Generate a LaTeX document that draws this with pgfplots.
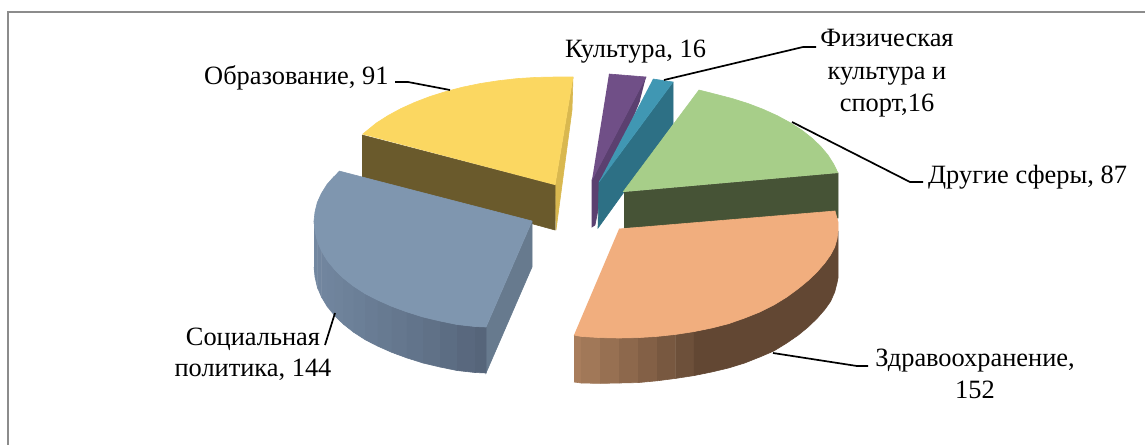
\documentclass[border=0pt]{standalone}
\usepackage{fontspec}
\setmainfont{Liberation Serif}
\usepackage{pgfplots}
\pgfplotsset{compat=1.18}
\definecolor{ytop}{HTML}{FBD761}
\definecolor{ywall}{HTML}{6A5A2C}
\definecolor{yside}{HTML}{D9B84F}
\definecolor{btop}{HTML}{7F96AF}
\definecolor{bside}{HTML}{677A8E}
\definecolor{bl}{HTML}{7388A1}
\definecolor{bd}{HTML}{56657A}
\definecolor{otop}{HTML}{F1AE7E}
\definecolor{ol}{HTML}{A87D5C}
\definecolor{od}{HTML}{624733}
\definecolor{gtop}{HTML}{A7CE89}
\definecolor{gwall}{HTML}{465336}
\definecolor{ttop}{HTML}{4097B3}
\definecolor{twall}{HTML}{2D7085}
\definecolor{ptop}{HTML}{704F87}
\definecolor{pwall}{HTML}{5B4070}
\definecolor{frame}{HTML}{8C8C8C}
\newcommand{\poly}[2]{\addplot[fill=#1,draw=#1,line width=0.6pt] coordinates {#2};}
\newcommand{\lead}[1]{\addplot[black,line width=1.7pt] coordinates {#1};}
\newcommand{\lab}[3]{\node[#1,font=\fontsize{26.4}{30}\selectfont,inner sep=0pt,align=center] at (axis cs:#2) {#3};}
\begin{document}
\begin{tikzpicture}
\begin{axis}[scale only axis,width=1145pt,height=445pt,xmin=0,xmax=1145,ymin=0,ymax=445,y dir=reverse,hide axis,clip=true]
\addplot[white,fill=white] coordinates {(0,0)(1145,0)(1145,445)(0,445)};
\addplot[frame,line width=2.2pt] coordinates {(1145,12)(8,12)(8,445)};
% yellow
\poly{yside}{(573,77)(572,110)(556,230)(555,185)}
\poly{ywall}{(362,135)(555,185)(555,230)(362,177)}
\poly{ytop}{(362.5,134.3)(376.4,123)(388,115.6)(400.9,108.6)(414.9,102.3)(430,96.5)(446,91.5)(462.9,87.1)(480.4,83.5)(498.6,80.7)(517.1,78.6)(536,77.4)(555,77)(573,77)(555,185)}
% blue
\poly{bside}{(532,221)(532,267)(486,373)(486,327)}
\poly{bl!100!bd}{(314,221)(315,231)(315,277)(314,267)}
\poly{bl!98!bd}{(315,231)(317.3,241)(317.3,287)(315,277)}
\poly{bl!95!bd}{(317.3,241)(321.4,250.8)(321.4,296.8)(317.3,287)}
\poly{bl!92!bd}{(321.4,250.8)(327.1,260.3)(327.1,306.3)(321.4,296.8)}
\poly{bl!89!bd}{(327.1,260.3)(334.5,269.4)(334.5,315.4)(327.1,306.3)}
\poly{bl!85!bd}{(334.5,269.4)(343.2,278)(343.2,324)(334.5,315.4)}
\poly{bl!80!bd}{(343.2,278)(353.5,286.1)(353.5,332.1)(343.2,324)}
\poly{bl!74!bd}{(353.5,286.1)(365,293.6)(365,339.6)(353.5,332.1)}
\poly{bl!67!bd}{(365,293.6)(377.9,300.2)(377.9,346.2)(365,339.6)}
\poly{bl!60!bd}{(377.9,300.2)(391.9,306.4)(391.9,352.4)(377.9,346.2)}
\poly{bl!52!bd}{(391.9,306.4)(406.9,311.9)(406.9,357.9)(391.9,352.4)}
\poly{bl!43!bd}{(406.9,311.9)(423,317)(423,363)(406.9,357.9)}
\poly{bl!33!bd}{(423,317)(440,321)(440,367)(423,363)}
\poly{bl!22!bd}{(440,321)(457,324.5)(457,370.5)(440,367)}
\poly{bl!10!bd}{(457,324.5)(475,326.5)(475,372.5)(457,370.5)}
\poly{bl!0!bd}{(475,326.5)(486,327)(486,373)(475,372.5)}
\poly{btop}{(339,171)(532,221)(486,327)(475,326.5)(457,324.5)(440,321)(423,317)(406.9,311.9)(391.9,306.4)(377.9,300.2)(365,293.6)(353.5,286.1)(343.2,278)(334.5,269.4)(327.1,260.3)(321.4,250.8)(317.3,241)(315,231)(314,221)(315,212)(317.3,202.5)(321.4,193.5)(327,184.5)(334.5,176)}
% purple
\poly{pwall}{(646,77)(592,180)(592,227)(595,225)(600,200)(640,100)}
\poly{ptop}{(609,74)(646,77)(592,180)}
% teal
\poly{twall}{(673,82)(673,124)(598,228)(599,182)}
\poly{ttop}{(653,79)(673,82)(599,182)}
% green
\poly{gwall}{(624,192)(838,173)(838,218)(624,228)}
\poly{gtop}{(623,192)(699,90)(715.1,94.1)(732,98.5)(748,103.5)(763.1,109.3)(777.1,115.6)(790,122.6)(801.6,130)(811.8,138)(820.6,146.4)(827.9,155)(833.6,164)(838,173)}
% orange
\poly{ol!100!od}{(574,335)(581,336.4)(581,383)(574,382)}
\poly{ol!90!od}{(581,336.4)(600,337.6)(600,383.4)(581,383)}
\poly{ol!76!od}{(600,337.6)(619,338)(619,383)(600,383.4)}
\poly{ol!62!od}{(619,338)(638,337.6)(638,382.6)(619,383)}
\poly{ol!47!od}{(638,337.6)(657,336.4)(657,380.8)(638,382.6)}
\poly{ol!32!od}{(657,336.4)(675.7,334.4)(675.7,378.4)(657,380.8)}
\poly{ol!16!od}{(675.7,334.4)(693.9,331.6)(693.9,375.6)(675.7,378.4)}
\poly{od}{(693.9,331.6)(711.6,328)(728.5,323.7)(744.7,318)(759.8,312)(773.8,305)(786.8,297)(798.4,288.5)(808.7,280)(817.4,271.5)(824.8,263)(830.5,255)(834.7,247)(837,239)(838,231)(838,278)(837,283)(834.7,292)(830.5,301.5)(824.8,309.5)(817.4,318)(808.7,326.5)(798.4,335)(786.8,343)(773.8,351)(759.8,357)(744.7,363)(728.5,368)(711.6,372)(693.9,375.6)}
\poly{otop}{(619,229)(835,211)(838,222)(838,231)(837,239)(834.7,247)(830.5,255)(824.8,263)(817.4,271.5)(808.7,280)(798.4,288.5)(786.8,297)(773.8,305)(759.8,312)(744.7,318)(728.5,323.7)(711.6,328)(693.9,331.6)(675.7,334.4)(657,336.4)(638,337.6)(619,338)(600,337.6)(581,336.4)(574,335)}
% leaders
\lead{(395,82)(408,82)(450,90)}
\lead{(664,80)(803,47)(816,47)}
\lead{(792,122)(910,182)(923,182)}
\lead{(773,353)(857,366)(868,366)}
\lead{(335,313)(325,345)}
% labels
\lab{anchor=base west}{204,84}{Образование, 91}
\lab{anchor=base west}{565,57}{Культура, 16}
\lab{anchor=base}{887,46}{Физическая}
\lab{anchor=base}{887,79}{культура и}
\lab{anchor=base}{887,111}{спорт,16}
\lab{anchor=base west}{928,183}{Другие сферы, 87}
\lab{anchor=base}{975,366}{Здравоохранение,}
\lab{anchor=base}{975,398}{152}
\lab{anchor=base}{253,345}{Социальная}
\lab{anchor=base}{253,376}{политика, 144}
\end{axis}
\end{tikzpicture}
\end{document}
